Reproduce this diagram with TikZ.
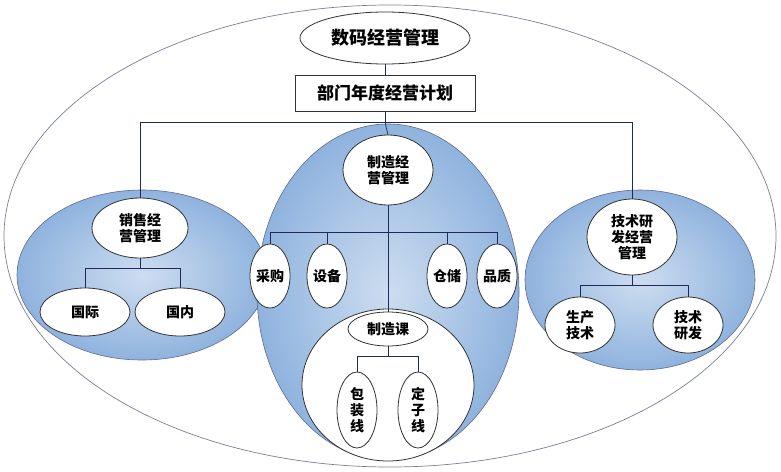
\documentclass[tikz,border=0pt]{standalone}
\usepackage{fontspec}
\newfontfamily\cjk{Noto Sans CJK SC}
\definecolor{bluef}{HTML}{8FB3DE}
\definecolor{ln}{HTML}{1F2A5C}
\begin{document}
\begin{tikzpicture}[x=1pt,y=-1pt,
  every node/.style={font=\cjk\bfseries\fontsize{14}{16}\selectfont, align=center, inner sep=0pt},
  wel/.style={draw=black!80, line width=0.8pt, fill=white},
  blob/.style={draw=ln!70, inner color=bluef!45, outer color=bluef, line width=0.6pt},
  con/.style={draw=ln, line width=0.7pt}]
\useasboundingbox (0,0) rectangle (781,471);
\draw[draw=ln!60, fill=white, line width=0.7pt] (390,236) ellipse [x radius=386, y radius=231];
\shadedraw[blob] (142,275) ellipse [x radius=125, y radius=85];
\shadedraw[blob] (388,292) ellipse [x radius=131, y radius=168];
\shadedraw[blob] (640,280) ellipse [x radius=115, y radius=90];
\draw[wel] (388,385) ellipse [x radius=86, y radius=76];
\coordinate (bar) at (385,122);
\draw[wel] (385,38) ellipse [x radius=85, y radius=26]; \node (top) at (385,38) {\fontsize{18}{21}\selectfont 数码经营管理};
\node[draw=black!80, line width=0.8pt, fill=white, minimum width=180, minimum height=36, font=\cjk\bfseries\fontsize{17}{20}\selectfont] (plan) at (385,93) {部门年度经营计划};
\draw[con] (385,64) -- (plan.north);
\draw[con] (plan.south) -- (bar);
\coordinate (bl) at (140,122); \coordinate (br) at (632,122);
\draw[con] (bl) -- (br);
% left
\draw[con] (bl) -- (140,198);
\draw[wel] (140,228) ellipse [x radius=48, y radius=30]; \node (sal) at (140,228) {销售经\\营管理};
\draw[con] (140,258) -- (140,268) -- (85,268) -- (85,288) (140,268) -- (180,268) -- (180,288);
\draw[wel] (85,312) ellipse [x radius=45, y radius=24]; \node (gj) at (85,312) {国际};
\draw[wel] (180,312) ellipse [x radius=45, y radius=24]; \node (gn) at (180,312) {国内};
% center
\draw[wel] (388,170) ellipse [x radius=45, y radius=35]; \node (mfg) at (388,170) {制造经\\营管理};
\draw[con] (bar) -- (388,135);
\draw[con] (388,205) -- (388,312);
\draw[con] (270,232) -- (497,232);
\foreach \x/\t in {270/采购,327/设备,447/仓储,497/品质}{
  \draw[con] (\x,232) -- (\x,244);
  \draw[wel] (\x,276) ellipse [x radius=20, y radius=32]; \node at (\x,276) {\t};}
\draw[wel] (388,329) ellipse [x radius=40, y radius=17]; \node (mk) at (388,329) {制造课};
\draw[con] (388,346) -- (388,356) (357,356) -- (418,356) (357,356) -- (357,372) (418,356) -- (418,372);
\draw[wel] (357,410) ellipse [x radius=20, y radius=38]; \node (bz) at (357,410) {包\\装\\线};
\draw[wel] (418,410) ellipse [x radius=20, y radius=38]; \node (dz) at (418,410) {定\\子\\线};
% right
\draw[con] (br) -- (632,199);
\draw[wel] (632,237) ellipse [x radius=45, y radius=38]; \node (tech) at (632,237) {技术研\\发经营\\管理};
\draw[con] (632,275) -- (632,285) (580,285) -- (688,285) (580,285) -- (580,297) (688,285) -- (688,297);
\draw[wel] (580,325) ellipse [x radius=35, y radius=28]; \node (sc) at (580,325) {生产\\技术};
\draw[wel] (688,325) ellipse [x radius=35, y radius=28]; \node (yf) at (688,325) {技术\\研发};
\end{tikzpicture}
\end{document}
